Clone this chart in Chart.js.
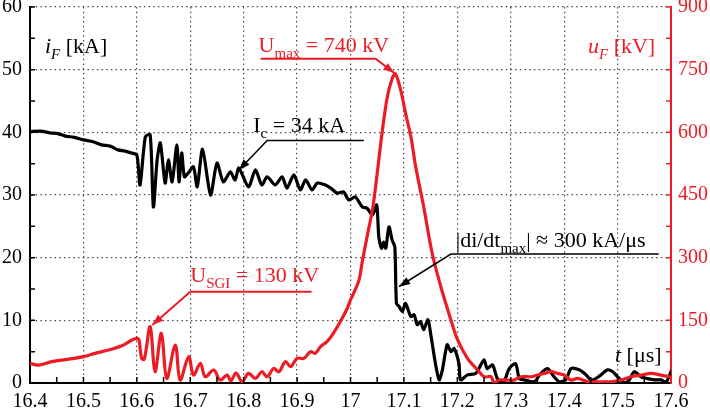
<!DOCTYPE html>
<html><head><meta charset="utf-8">
<script src="https://cdn.jsdelivr.net/npm/chart.js@4/dist/chart.umd.min.js"></script>
<style>html,body{margin:0;padding:0;background:#fff;}#wrap{width:710px;height:411px;}</style>
</head><body><div id="wrap"><canvas id="c" width="710" height="411"></canvas></div>
<script>
// ---- data ----
const timeI = [16.400,16.420,16.438,16.452,16.466,16.483,16.500,16.518,16.534,16.550,16.565,16.578,16.590,16.600,16.606,16.616,16.625,16.631,16.638,16.644,16.653,16.659,16.666,16.675,16.679,16.684,16.689,16.696,16.706,16.713,16.723,16.738,16.750,16.762,16.775,16.784,16.791,16.809,16.822,16.834,16.844,16.859,16.872,16.881,16.894,16.906,16.916,16.928,16.938,16.953,16.963,16.975,16.987,16.997,17.009,17.022,17.031,17.041,17.049,17.053,17.058,17.062,17.066,17.072,17.078,17.083,17.086,17.091,17.097,17.103,17.113,17.119,17.125,17.131,17.137,17.145,17.150,17.159,17.166,17.172,17.181,17.188,17.194,17.203,17.206,17.219,17.234,17.241,17.250,17.256,17.266,17.275,17.287,17.297,17.309,17.316,17.325,17.344,17.356,17.369,17.381,17.391,17.403,17.413,17.428,17.441,17.450,17.459,17.469,17.481,17.491,17.500,17.513,17.522,17.531,17.544,17.556,17.569,17.581,17.591,17.600];
const currentI = [40.1,40.2,39.9,39.8,39.4,39.2,38.8,38.5,38.0,37.8,37.2,37.0,36.7,36.4,31.6,39.3,39.6,28.1,35.6,38.3,31.9,35.6,32.1,38.0,32.1,36.7,32.9,33.5,34.5,31.3,37.3,30.0,35.1,32.1,33.7,32.4,34.3,31.3,34.0,31.6,32.9,31.6,32.9,31.1,33.2,30.8,32.4,30.8,31.9,31.6,31.1,30.3,30.5,29.2,29.7,28.1,27.9,26.8,28.4,23.3,21.5,22.5,21.5,24.9,22.8,21.7,12.7,12.2,11.4,12.7,10.6,10.9,9.3,9.8,8.5,10.1,7.9,3.1,0.5,2.1,6.1,5.0,5.5,3.1,0.5,1.3,1.5,2.4,3.7,2.3,2.9,0.7,0.2,2.3,3.1,0.7,0.5,0.2,1.5,2.3,1.0,0.2,0.5,2.3,2.1,1.3,0.5,0.7,1.3,2.1,1.8,1.0,0.0,0.5,1.8,1.0,0.7,0.5,0.5,0.2,1.8];
const timeU = [16.400,16.416,16.441,16.472,16.500,16.522,16.547,16.572,16.591,16.600,16.604,16.609,16.614,16.625,16.634,16.646,16.656,16.672,16.681,16.697,16.706,16.719,16.728,16.744,16.756,16.769,16.776,16.786,16.797,16.809,16.822,16.834,16.844,16.856,16.866,16.878,16.888,16.900,16.913,16.925,16.934,16.944,16.956,16.966,16.981,16.994,17.000,17.006,17.016,17.022,17.031,17.041,17.047,17.053,17.059,17.069,17.078,17.084,17.094,17.103,17.113,17.122,17.137,17.153,17.169,17.188,17.200,17.219,17.238,17.250,17.263,17.269,17.278,17.294,17.306,17.319,17.338,17.350,17.363,17.375,17.388,17.400,17.413,17.425,17.444,17.463,17.488,17.506,17.525,17.544,17.563,17.581,17.597];
const voltageU = [47,43,51,57,63,71,79,89,103,107,103,59,57,135,27,119,11,91,7,63,19,47,15,31,7,19,5,24,3,23,11,27,15,35,27,51,39,59,59,75,71,87,99,115,147,179,199,215,247,290,350,414,470,534,598,685,729,740,701,646,590,518,422,310,231,151,105,59,31,15,15,0,7,7,7,15,15,19,23,27,23,19,7,11,3,3,3,7,15,19,23,19,15];
const xTickValues = [16.4,16.5,16.6,16.7,16.8,16.9,17.0,17.1,17.2,17.3,17.4,17.5,17.6];
const iTickValues = [0,10,20,30,40,50,60];
const uTickValues = [0,150,300,450,600,750,900];

// ---- styles ----
const RED = '#ed1c24';
const SERIF = '"Liberation Serif","Times New Roman",serif';
const GRID = '#4a4a4a';

function pts(xs, ys){ return xs.map((x,i)=>({x:x, y:ys[i]})); }
function fnt(size, it){ return (it?'italic ':'') + size + 'px ' + SERIF; }
function rich(ctx, x, y, parts, size, color){
  ctx.save(); ctx.fillStyle = color; ctx.textBaseline = 'alphabetic'; ctx.textAlign = 'left';
  let cx = x;
  for (const p of parts){
    const s = p.sub ? size*0.68 : size;
    ctx.font = fnt(s, p.it);
    ctx.fillText(p.t, cx, y + (p.sub ? size*0.28 : 0));
    cx += ctx.measureText(p.t).width;
  }
  ctx.restore();
}
function leader(ctx, path, color, lw){
  ctx.save(); ctx.strokeStyle = color; ctx.fillStyle = color; ctx.lineWidth = lw;
  ctx.beginPath(); ctx.moveTo(path[0][0], path[0][1]);
  for (let k=1;k<path.length;k++) ctx.lineTo(path[k][0], path[k][1]);
  ctx.stroke();
  const [x1,y1] = path[path.length-2], [x2,y2] = path[path.length-1];
  const a = Math.atan2(y2-y1, x2-x1), L = 11, W = 4;
  const c = Math.cos(a), s = Math.sin(a);
  ctx.beginPath(); ctx.moveTo(x2,y2);
  ctx.lineTo(x2-L*c+W*s, y2-L*s-W*c); ctx.lineTo(x2-L*c-W*s, y2-L*s+W*c); ctx.closePath(); ctx.fill();
  ctx.restore();
}

// annotation anchors in data coordinates (path ends at the elbow, then the arrow goes to tip)
const notes = [
  {axis:'y1', color:RED, lw:2, text:[{t:'U'},{t:'max',sub:true},{t:' = 740 kV'}], at:[16.828,792],
   path:[[16.832,776],[17.047,776]], tip:[17.082,742]},
  {axis:'y1', color:RED, lw:2, text:[{t:'U'},{t:'SGI',sub:true},{t:' = 130 kV'}], at:[16.700,242],
   path:[[16.927,218.6],[16.700,218.6]], tip:[16.629,139]},
  {axis:'y', color:'#000', lw:1.5, text:[{t:'I'},{t:'c',sub:true},{t:' = 34 kA'}], at:[16.818,40.1],
   path:[[17.025,38.7],[16.844,38.7]], tip:[16.791,34.0]},
  {axis:'y', color:'#000', lw:1.5, text:[{t:'|di/dt'},{t:'max',sub:true},{t:'| \u2248 300 kA/\u03bcs'}], at:[17.197,21.75],
   path:[[17.577,20.58],[17.188,20.58]], tip:[17.091,15.4]}
];

const decor = {
  id:'decor',
  afterDatasetsDraw(chart){
    const ctx = chart.ctx, a = chart.chartArea;
    const sx = chart.scales.x, sy = chart.scales.y, su = chart.scales.y1;
    ctx.save();
    ctx.lineWidth = 1.5; ctx.strokeStyle = '#000';
    ctx.beginPath();
    for (let k=1;k<24;k++){ const x = sx.getPixelForValue(16.4 + k*0.05); ctx.moveTo(x, a.bottom); ctx.lineTo(x, a.bottom-6); }
    for (let k=1;k<=12;k++){ const y = sy.getPixelForValue(k*5); ctx.moveTo(a.left, y); ctx.lineTo(a.left+5, y); }
    ctx.stroke();
    ctx.strokeStyle = RED; ctx.beginPath();
    for (let k=1;k<=12;k++){ const y = su.getPixelForValue(k*75); ctx.moveTo(a.right, y); ctx.lineTo(a.right-5, y); }
    ctx.stroke();
    ctx.restore();
    rich(ctx, a.left+15, a.top+46, [{t:'i',it:true},{t:'F',it:true,sub:true},{t:' [kA]'}], 22, '#000');
    rich(ctx, a.right-83, a.top+46, [{t:'u',it:true},{t:'F',it:true,sub:true},{t:' [kV]'}], 22, RED);
    rich(ctx, a.right-56, a.bottom-21, [{t:'t',it:true},{t:' [\u03bcs]'}], 22, '#000');
    for (const n of notes){
      const ys = chart.scales[n.axis];
      const P = p => [sx.getPixelForValue(p[0]), ys.getPixelForValue(p[1])];
      const path = n.path.map(P).concat([P(n.tip)]);
      leader(ctx, path, n.color, n.lw);
      const [tx, ty] = P(n.at);
      rich(ctx, tx, ty, n.text, 22, n.color);
    }
  }
};

const tickFont = {family: SERIF, size: 20};
function fmt(v){ return String(+(+v).toFixed(1)); }

new Chart(document.getElementById('c'), {
  type: 'scatter',
  data: { datasets: [
    {label:'u_F', data: pts(timeU, voltageU), yAxisID:'y1', showLine:true, borderColor:RED, borderWidth:3.2, pointRadius:0, tension:0.35, order:0, borderJoinStyle:'round', borderCapStyle:'round'},
    {label:'i_F', data: pts(timeI, currentI), yAxisID:'y', showLine:true, borderColor:'#000', borderWidth:3.2, pointRadius:0, tension:0.25, order:1, borderJoinStyle:'round', borderCapStyle:'round'}
  ]},
  options: {
    responsive:false, animation:false,
    layout:{padding:{top:7,left:0,right:0,bottom:0}},
    plugins:{legend:{display:false}, tooltip:{enabled:false}},
    scales:{
      x:{type:'linear', min:16.4, max:17.6,
         afterBuildTicks: s => { s.ticks = xTickValues.map(v=>({value:v})); },
         afterFit: s => { s.height = 28; },
         ticks:{font:tickFont, color:'#000', padding:7, maxRotation:0, autoSkip:false, callback: v => fmt(v)},
         grid:{drawTicks:false, lineWidth:1.2, color: c => (c.index===0||c.index===xTickValues.length-1)?'rgba(0,0,0,0)':GRID},
         border:{display:true, color:'#000', width:2, dash:[1.5,3.2]}},
      y:{position:'left', min:0, max:60,
         afterBuildTicks: s => { s.ticks = iTickValues.map(v=>({value:v})); },
         afterFit: s => { s.width = 30; s.paddingTop = 0; s.paddingBottom = 0; },
         ticks:{font:tickFont, color:'#000', padding:8},
         grid:{drawTicks:false, lineWidth:1.2, color: c => c.index===0?'rgba(0,0,0,0)':GRID},
         border:{display:true, color:'#000', width:2, dash:[1.5,3.2]}},
      y1:{position:'right', min:0, max:900,
         afterBuildTicks: s => { s.ticks = uTickValues.map(v=>({value:v})); },
         afterFit: s => { s.width = 39; s.paddingTop = 0; s.paddingBottom = 0; },
         ticks:{font:tickFont, color:RED, padding:7},
         grid:{display:false, drawTicks:false},
         border:{display:true, color:RED, width:2}}
    }
  },
  plugins:[decor]
});
</script>
</body></html>
